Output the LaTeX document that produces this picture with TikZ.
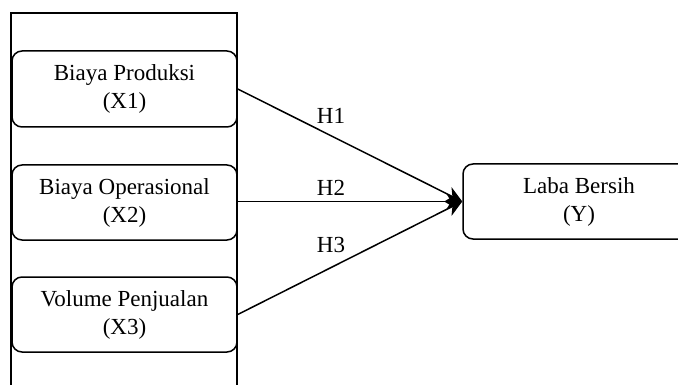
\documentclass[tikz,border=0pt]{standalone}
\usepackage{fontspec}
\setmainfont{Liberation Serif}
\usetikzlibrary{arrows.meta}
\begin{document}
\begin{tikzpicture}[x=1pt,y=-1pt,
  box/.style={draw=black,line width=1.5pt,rounded corners=10pt,align=center,
    font=\fontsize{23}{28}\selectfont,inner sep=0pt},
  link/.style={draw=black,line width=1.5pt,-{Stealth[length=16pt,width=16pt,inset=5pt]}},
  lab/.style={font=\fontsize{23}{26}\selectfont,inner sep=0pt}]
\useasboundingbox (0,0) rectangle (678,385);
\clip (0,0) rectangle (678,385);
\draw[line width=1.5pt] (11,390) -- (11,13) -- (237,13) -- (237,390);
\node[box,minimum width=225pt,minimum height=76pt] (x1) at (124.5,89) {Biaya Produksi\\(X1)};
\node[box,minimum width=225pt,minimum height=75pt] (x2) at (124.5,202.5) {Biaya Operasional\\(X2)};
\node[box,minimum width=225pt,minimum height=75pt] (x3) at (124.5,314.5) {Volume Penjualan\\(X3)};
\node[box,minimum width=232pt,minimum height=75pt] (y) at (579,201.5) {Laba Bersih\\(Y)};
\draw[link] (x1.east) -- (y.west);
\draw[link] (x2.east |- y.west) -- (y.west);
\draw[link] (x3.east) -- (y.west);
\node[lab] (h1) at (331,116) {H1};
\node[lab] (h2) at (331,188) {H2};
\node[lab] (h3) at (331,245) {H3};
\end{tikzpicture}
\end{document}
